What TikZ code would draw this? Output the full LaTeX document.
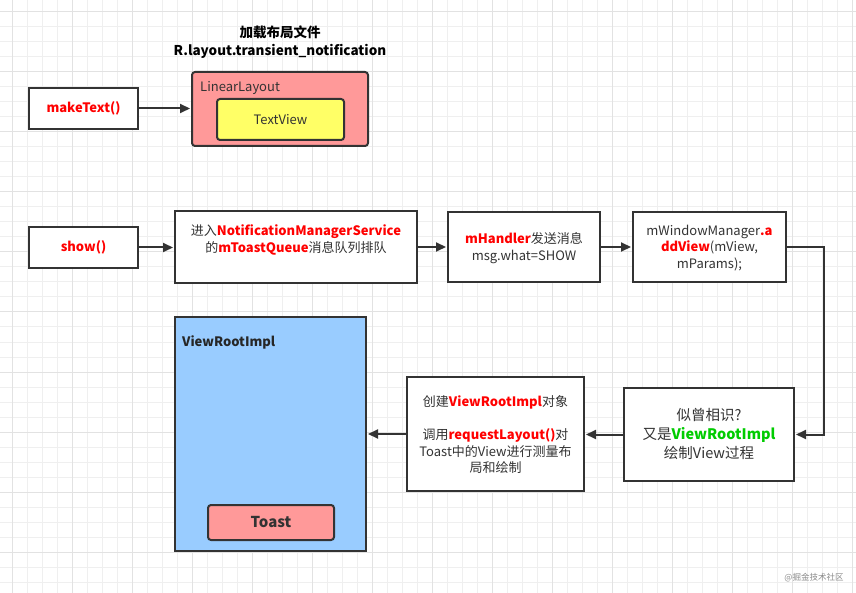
\documentclass[tikz,border=0pt]{standalone}
\usepackage{fontspec}
\setmainfont{Noto Sans CJK SC}
\usetikzlibrary{arrows.meta}
\definecolor{bd}{HTML}{333333}
\definecolor{pinkf}{HTML}{FF9999}
\definecolor{yelf}{HTML}{FFFF66}
\definecolor{bluef}{HTML}{99CCFF}
\definecolor{redt}{HTML}{FF0000}
\definecolor{greent}{HTML}{00CC00}
\definecolor{gridmin}{HTML}{EFEFEF}
\definecolor{gridmaj}{HTML}{E2E2E2}
\definecolor{wmark}{HTML}{8A8A8A}
\newcommand{\rb}[1]{\textcolor{redt}{\textbf{#1}}}
\newcommand{\gb}[1]{\textcolor{greent}{\textbf{#1}}}
\begin{document}
\begin{tikzpicture}[x=1pt,y=-1pt,
  box/.style={draw=bd,line width=2pt,fill=white,inner sep=0pt},
  rbox/.style={box,rounded corners=3pt},
  txt/.style={text=bd,align=center,inner sep=0pt,font=\fontsize{13}{16.5}\selectfont},
  conn/.style={draw=bd,line width=2pt,-{Triangle[length=10pt,width=9pt]},shorten >=1pt}]
\useasboundingbox (0,0) rectangle (856,593);
% grid
\foreach \v in {12,27,...,852} {\draw[gridmin,line width=1pt] (\v,0) -- (\v,593);}
\foreach \v in {12,27,...,590} {\draw[gridmin,line width=1pt] (0,\v) -- (856,\v);}
\foreach \v in {12,72,...,852} {\draw[gridmaj,line width=1pt] (\v,0) -- (\v,593);}
\foreach \v in {12,72,...,590} {\draw[gridmaj,line width=1pt] (0,\v) -- (856,\v);}

% top row
\node[txt,font=\fontsize{13.5}{18}\selectfont\bfseries,text=black] (title) at (280,42) {加载布局文件\\R.layout.transient\_notification};
\node[box,minimum width=109pt,minimum height=41pt] (make) at (83.5,108.5) {};
\node[txt] (maket) at (make.center) {\rb{makeText()}};
\node[rbox,fill=pinkf,minimum width=176pt,minimum height=74pt] (ll) at (280,109) {};
\node[txt,anchor=west] (llt) at (200,88) {LinearLayout};
\node[rbox,fill=yelf,minimum width=127pt,minimum height=41pt] (tv) at (280.5,119.5) {};
\node[txt] (tvt) at (tv.center) {TextView};
\draw[conn] (make.east) -- (make.east -| ll.west);

% second row
\node[box,minimum width=109pt,minimum height=41pt] (show) at (83.5,247.5) {};
\node[txt] (showt) at (show.center) {\rb{show()}};
\node[box,minimum width=242pt,minimum height=72pt] (nms) at (296,247) {};
\node[txt] (nmst) at (296,240) {进入\rb{NotificationManagerService}\\的\rb{mToastQueue}消息队列排队};
\node[box,minimum width=152pt,minimum height=70pt] (mh) at (524,247) {};
\node[txt] (mht) at (524,248) {\rb{mHandler}发送消息\\msg.what=SHOW};
\node[box,minimum width=153pt,minimum height=70pt] (mwm) at (709.5,247) {};
\node[txt] (mwmt) at (709.5,248) {mWindowManager\rb{.a}\\\rb{ddView}(mView,\\mParams);};
\draw[conn] (show.east) -- (show.east -| nms.west);
\draw[conn] (nms.east) -- (nms.east -| mh.west);
\draw[conn] (mh.east) -- (mh.east -| mwm.west);

% third row
\node[box,minimum width=170pt,minimum height=93pt] (sz) at (709,434.5) {};
\node[txt,font=\fontsize{14.5}{19}\selectfont] (szt) at (709,434) {似曾相识?\\又是\gb{ViewRootImpl}\\绘制View过程};
\node[box,minimum width=177pt,minimum height=114pt] (cj) at (495.5,434) {};
\node[txt] (cjt) at (495.5,435) {创建\rb{ViewRootImpl}对象\\[16.5pt]调用\rb{requestLayout()}对\\Toast中的View进行测量布\\局和绘制};
\node[box,fill=bluef,minimum width=191pt,minimum height=234pt] (vri) at (270.5,434) {};
\node[txt,anchor=west,font=\fontsize{13}{16}\selectfont\bfseries,text=black!85] (vrit) at (182,342) {ViewRootImpl};
\node[rbox,fill=pinkf,minimum width=126pt,minimum height=35pt] (toast) at (271,522.5) {};
\node[txt,font=\fontsize{15}{18}\selectfont\bfseries] (toastt) at (toast.center) {Toast};

\coordinate (turn) at (824,340);
\draw[conn] (mwm.east) -| (turn) |- (sz.east);
\draw[conn] (sz.west) -- (sz.west -| cj.east);
\draw[conn] (cj.west) -- (cj.west -| vri.east);

\node[text=wmark,inner sep=0pt,font=\fontsize{8.5}{10}\selectfont] (wm) at (814,578) {@掘金技术社区};
\end{tikzpicture}
\end{document}
